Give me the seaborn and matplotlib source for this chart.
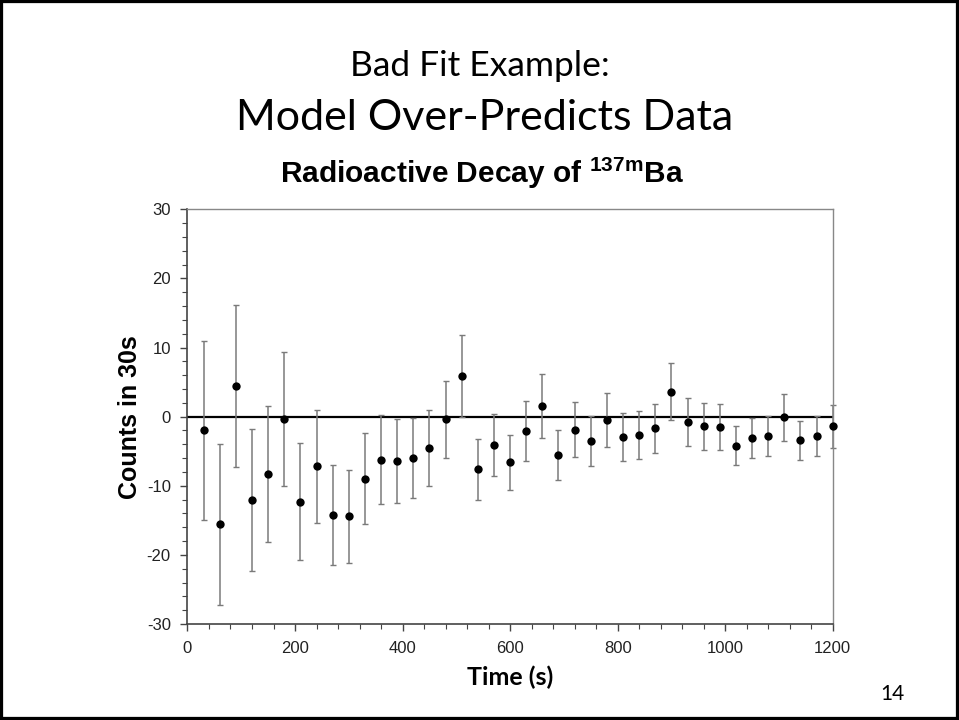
import numpy as np
import pandas as pd
import matplotlib
matplotlib.use('Agg')
import matplotlib.pyplot as plt
import seaborn as sns
from matplotlib.patches import Rectangle
from matplotlib.ticker import MultipleLocator

# residuals of the decay fit (data - model)
time_s = [30, 60, 90, 120, 150, 180, 210, 240, 270, 300,
          330, 360, 390, 420, 450, 480, 510, 540, 570, 600,
          630, 660, 690, 720, 750, 780, 810, 840, 870, 900,
          930, 960, 990, 1020, 1050, 1080, 1110, 1140, 1170, 1200]
counts = [-2.0, -15.6, 4.4, -12.1, -8.3, -0.4, -12.3, -7.2, -14.2, -14.4,
          -9.0, -6.2, -6.4, -6.0, -4.5, -0.4, 5.9, -7.6, -4.1, -6.6,
          -2.1, 1.5, -5.6, -1.9, -3.5, -0.5, -2.9, -2.7, -1.7, 3.6,
          -0.8, -1.4, -1.5, -4.2, -3.1, -2.8, -0.1, -3.4, -2.8, -1.4]
err = [13.0, 11.6, 11.7, 10.3, 9.85, 9.7, 8.5, 8.2, 7.2, 6.7,
       6.6, 6.4, 6.1, 5.75, 5.5, 5.6, 5.95, 4.4, 4.55, 4.0,
       4.35, 4.65, 3.6, 4.0, 3.6, 3.9, 3.5, 3.45, 3.5, 4.1,
       3.5, 3.4, 3.3, 2.8, 2.95, 2.95, 3.4, 2.8, 2.95, 3.1]

df = pd.DataFrame({'Time': time_s, 'Counts': counts, 'err': err})

sns.set_style('white')
plt.rcParams['font.family'] = ['Liberation Sans', 'DejaVu Sans']
plt.rcParams['mathtext.fontset'] = 'custom'
plt.rcParams['mathtext.rm'] = 'Liberation Sans:bold'
plt.rcParams['axes.unicode_minus'] = False
plt.rcParams['text.color'] = 'black'

fig = plt.figure(figsize=(9.59, 7.2), dpi=100)
ax = fig.add_axes([0.1955, 0.1333, 0.6728, 0.576])

ax.axhline(0, color='black', lw=1.6, zorder=1)
ax.errorbar(df.Time, df.Counts, yerr=df.err, fmt='none', ecolor='#7a7a7a',
            elinewidth=1.1, capsize=2.2, capthick=1.0, zorder=2, clip_on=False)
sns.scatterplot(x='Time', y='Counts', data=df, color='black', s=36,
                edgecolor='black', linewidth=0, zorder=3, ax=ax, clip_on=False)

ax.set_xlim(0, 1200)
ax.set_ylim(-30, 30)
ax.xaxis.set_major_locator(MultipleLocator(200))
ax.xaxis.set_minor_locator(MultipleLocator(40))
ax.yaxis.set_major_locator(MultipleLocator(10))
ax.yaxis.set_minor_locator(MultipleLocator(2))
ax.tick_params(which='major', direction='out', length=5, width=1, color='#444444',
               labelsize=12, labelcolor='#222222', left=True, bottom=True, pad=7)
ax.tick_params(which='minor', direction='out', length=3.5, width=0.8, color='#444444',
               left=True, bottom=True)
for side in ['left', 'bottom']:
    ax.spines[side].set_color('#444444')
    ax.spines[side].set_linewidth(1.2)
for side in ['top', 'right']:
    ax.spines[side].set_color('#888888')
    ax.spines[side].set_linewidth(1.0)

ax.set_xlabel('')
ax.set_ylabel('')
fig.text(130 / 959, 1 - 417 / 720, 'Counts in 30s', rotation=90, ha='center', va='center',
         fontsize=18, fontweight='bold')
fig.text(510 / 959, 1 - 685 / 720, 'Time (s)', ha='center', va='baseline',
         fontsize=18, fontweight='bold', family='Lato')
fig.text(482 / 959, 1 - 183 / 720, r'Radioactive Decay of $^{\mathregular{137m}}$Ba',
         ha='center', va='baseline', fontsize=21.5, fontweight='bold')

# slide headings
fig.text(480 / 959, 1 - 76 / 720, 'Bad Fit Example:', ha='center', va='baseline',
         fontsize=25.5, family='Lato')
fig.text(485 / 959, 1 - 130 / 720, 'Model Over-Predicts Data', ha='center', va='baseline',
         fontsize=31, family='Lato')
fig.text(892 / 959, 1 - 700 / 720, '14', ha='center', va='baseline', fontsize=15, family='Lato')

fig.patches.append(Rectangle((0, 0), 1, 1, transform=fig.transFigure, fill=False,
                             edgecolor='black', linewidth=4.5, zorder=10))

fig.savefig('out.png', dpi=100)
